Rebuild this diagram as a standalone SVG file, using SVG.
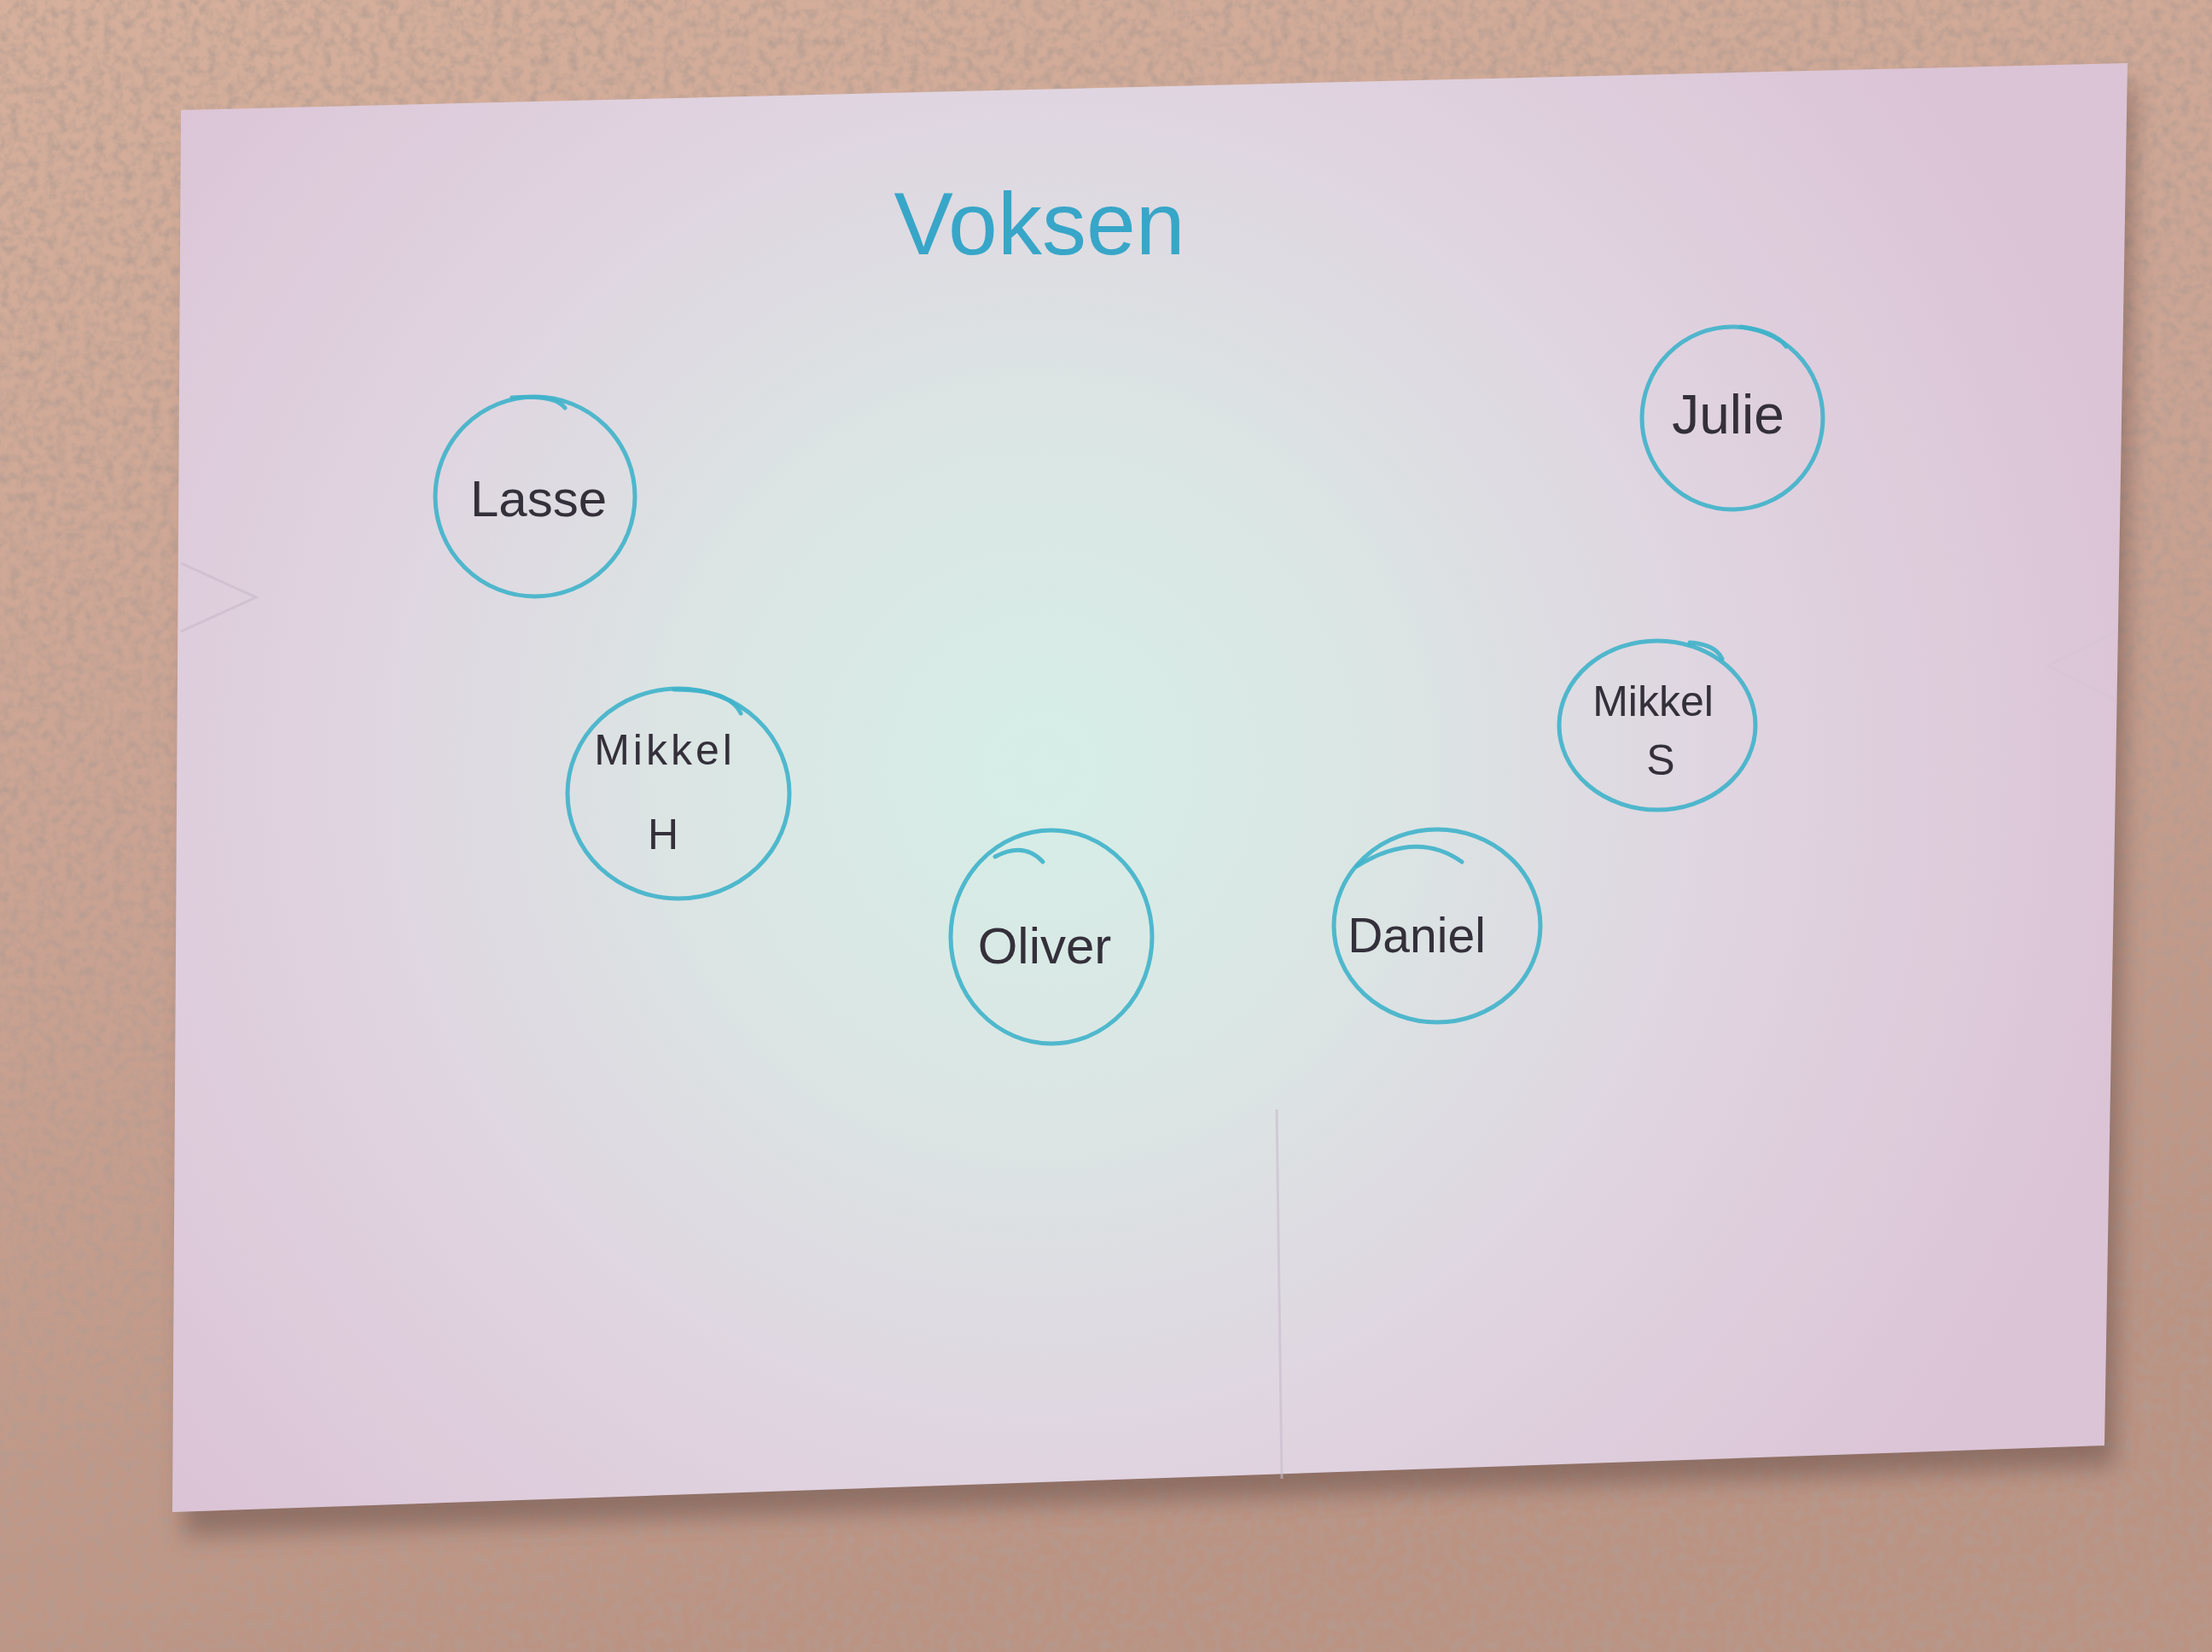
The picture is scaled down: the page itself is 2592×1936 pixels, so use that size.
<svg xmlns="http://www.w3.org/2000/svg" width="2592" height="1936" viewBox="0 0 2592 1936">
<defs>
<style>
.ring{fill:none;stroke:#3fb2ca;stroke-width:5;stroke-linecap:round;opacity:0.9}
.name{font-family:"Liberation Sans",Arial,sans-serif;font-size:60px;fill:#34303a;text-anchor:middle;dominant-baseline:central}
.small{font-size:50px}
.title{font-family:"Liberation Sans",Arial,sans-serif;font-size:104px;fill:#38a6c8;text-anchor:middle;dominant-baseline:central}
</style>
<linearGradient id="wall" x1="0" y1="0" x2="0.3" y2="1">
<stop offset="0" stop-color="#d6b09c"/>
<stop offset="0.5" stop-color="#cba393"/>
<stop offset="1" stop-color="#bb9383"/>
</linearGradient>
<radialGradient id="paperGlow" cx="1220" cy="900" r="1300" gradientUnits="userSpaceOnUse">
<stop offset="0" stop-color="#d6eee7"/>
<stop offset="0.3" stop-color="#dbe6e4"/>
<stop offset="0.65" stop-color="#e0d3e0"/>
<stop offset="1" stop-color="#dbc4d6"/>
</radialGradient>
<filter id="grain" x="0" y="0" width="100%" height="100%">
<feTurbulence type="fractalNoise" baseFrequency="0.09" numOctaves="3" seed="4" result="n"/>
<feColorMatrix in="n" type="matrix" values="0 0 0 0 0.45  0 0 0 0 0.33  0 0 0 0 0.28  0 0 0 1.6 -0.6" result="t"/>
<feComposite in="t" in2="SourceGraphic" operator="in"/>
</filter>
<filter id="shadow" x="-5%" y="-5%" width="110%" height="115%">
<feGaussianBlur stdDeviation="14"/>
</filter>
</defs>

<g id="background">
<rect x="0" y="0" width="2592" height="1936" fill="url(#wall)"/>
<rect x="0" y="0" width="2592" height="1936" fill="#000" filter="url(#grain)"/>
</g>

<g id="paper">
<polygon points="230,160 2500,100 2478,1718 215,1800" fill="#5a3f3a" opacity="0.45" filter="url(#shadow)"/>
<polygon points="212,129 2493,74 2466,1694 202,1772" fill="url(#paperGlow)"/>
<line x1="1496" y1="1300" x2="1502" y2="1733" stroke="#c8bccc" stroke-width="3" opacity="0.6"/>
<path d="M212,660 L300,700 L212,740" fill="none" stroke="#c4b3c6" stroke-width="3" opacity="0.5"/>
<path d="M2480,740 L2400,780 L2478,820" fill="none" stroke="#d6c4d2" stroke-width="3" opacity="0.5"/>
</g>

<g id="title">
<text class="title" x="1218" y="262">Voksen</text>
</g>

<g id="node-lasse">
<ellipse class="ring" cx="627" cy="582" rx="117" ry="117"/>
<path class="ring" d="M600,466 Q650,462 662,478"/>
<text class="name" x="631" y="584">Lasse</text>
</g>

<g id="node-julie">
<ellipse class="ring" cx="2030" cy="490" rx="106" ry="107"/>
<path class="ring" d="M2040,383 Q2080,388 2093,406"/>
<text class="name" x="2025" y="486" style="font-size:64px">Julie</text>
</g>

<g id="node-mikkel-h">
<ellipse class="ring" cx="795" cy="930" rx="130" ry="123"/>
<path class="ring" d="M790,808 Q855,808 868,836"/>
<text class="name small" x="779" y="879" style="letter-spacing:4px">Mikkel</text>
<text class="name small" x="777" y="978">H</text>
</g>

<g id="node-mikkel-s">
<ellipse class="ring" cx="1942" cy="850" rx="115" ry="99"/>
<path class="ring" d="M1980,753 Q2010,755 2018,772"/>
<text class="name small" x="1937" y="822">Mikkel</text>
<text class="name small" x="1946" y="891">S</text>
</g>

<g id="node-oliver">
<ellipse class="ring" cx="1232" cy="1098" rx="118" ry="125"/>
<path class="ring" d="M1166,1004 Q1200,986 1222,1010"/>
<text class="name" x="1224" y="1108">Oliver</text>
</g>

<g id="node-daniel">
<ellipse class="ring" cx="1684" cy="1085" rx="121" ry="113"/>
<path class="ring" d="M1590,1015 Q1660,972 1713,1010"/>
<text class="name" x="1660" y="1096" style="font-size:57px">Daniel</text>
</g>

<g id="connectors"></g>
</svg>
